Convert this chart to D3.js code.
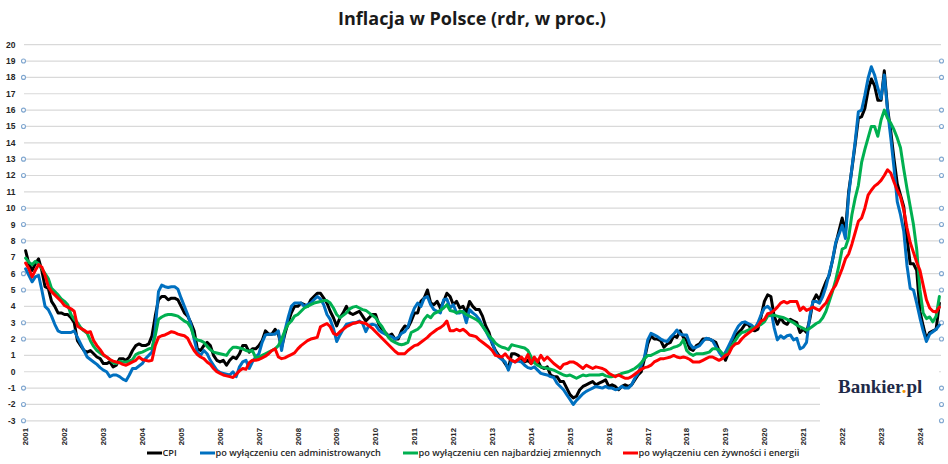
<!DOCTYPE html>
<html><head><meta charset="utf-8">
<script src="https://cdn.jsdelivr.net/npm/d3@7/dist/d3.min.js"></script>
<style>body{margin:0;background:#fff}svg{display:block}</style>
</head><body>
<svg id="chart" width="948" height="464"></svg>
<script>
const title = "Inflacja w Polsce (rdr, w proc.)";
const yearLabels = ["2001","2002","2003","2004","2005","2006","2007","2008","2009","2010","2011","2012",
  "2013","2014","2015","2016","2017","2018","2019","2020","2021","2022","2023","2024"];
const yTicks = [-3,-2,-1,0,1,2,3,4,5,6,7,8,9,10,11,12,13,14,15,16,17,18,19,20];
const markerTicks = [19,18,16,15,13,12,10,9,8,6,5,3,2,-1,-2,-3];
const seriesNames = ["CPI","po wyłączeniu cen administrowanych","po wyłączeniu cen najbardziej zmiennych","po wyłączeniu cen żywności i energii"];

// monthly, Jan 2001 – Jul 2024
const cpi = [
7.4,6.6,6.2,6.6,6.9,6.2,5.2,5.1,4.3,4.0,3.6,3.6,
3.5,3.5,3.3,3.0,1.9,1.6,1.3,1.2,1.3,1.1,0.9,0.8,
0.5,0.5,0.6,0.3,0.4,0.8,0.8,0.7,0.9,1.3,1.6,1.7,
1.6,1.6,1.7,2.2,3.4,4.4,4.6,4.6,4.4,4.5,4.5,4.4,
4.0,3.6,3.4,3.0,2.5,1.4,1.3,1.6,1.8,1.6,1.0,0.7,
0.6,0.7,0.4,0.7,0.9,0.8,1.1,1.6,1.6,1.2,1.4,1.4,
1.6,1.9,2.5,2.3,2.3,2.6,2.3,1.5,2.3,3.0,3.6,4.0,
4.0,4.2,4.1,4.0,4.4,4.6,4.8,4.8,4.5,4.2,3.7,3.3,
2.8,3.3,3.6,4.0,3.6,3.5,3.6,3.7,3.4,3.1,3.3,3.5,
3.5,2.9,2.6,2.4,2.2,2.3,2.0,2.0,2.5,2.8,2.7,3.1,
3.6,3.6,4.3,4.5,5.0,4.2,4.1,4.3,3.9,4.3,4.8,4.6,
4.1,4.3,3.9,4.0,3.6,4.3,4.0,3.8,3.8,3.4,2.8,2.4,
1.7,1.3,1.0,0.8,0.5,0.2,1.1,1.1,1.0,0.8,0.6,0.7,
0.5,0.7,0.7,0.3,0.2,0.3,-0.2,-0.3,-0.3,-0.6,-0.6,-1.0,
-1.4,-1.6,-1.5,-1.1,-0.9,-0.8,-0.7,-0.6,-0.8,-0.7,-0.6,-0.5,
-0.9,-0.8,-0.9,-1.1,-0.9,-0.8,-0.9,-0.8,-0.5,-0.2,0.0,0.8,
1.7,2.2,2.0,2.0,1.9,1.5,1.7,1.8,2.2,2.1,2.5,2.1,
1.9,1.4,1.3,1.6,1.7,2.0,2.0,2.0,1.9,1.8,1.3,1.1,
0.7,1.2,1.7,2.2,2.4,2.6,2.9,2.9,2.6,2.5,2.6,3.4,
4.3,4.7,4.6,3.4,2.9,3.3,3.0,2.9,3.2,3.1,3.0,2.4,
2.6,2.4,3.2,4.3,4.7,4.4,5.0,5.5,5.9,6.8,7.8,8.6,
9.4,8.5,11.0,12.4,13.9,15.5,15.6,16.1,17.2,17.9,17.5,16.6,
16.6,18.4,16.1,14.7,13.0,11.5,10.8,10.1,8.2,6.6,6.6,6.2,
3.7,2.8,2.0,2.4,2.5,2.6,4.2];

const exAdministered = [
6.3,5.9,5.5,5.8,5.9,5.0,4.0,3.8,3.4,2.9,2.5,2.4,
2.4,2.4,2.4,2.5,2.1,1.7,1.3,0.9,0.75,0.6,0.45,0.25,
0.1,0.0,-0.3,-0.2,-0.2,-0.3,-0.45,-0.55,-0.2,0.2,0.2,0.35,
0.5,0.8,1.0,1.2,2.6,4.9,5.3,5.2,5.15,5.2,5.2,5.05,
4.5,4.0,3.5,2.9,2.0,1.2,1.0,1.3,1.1,0.7,0.4,0.1,
-0.05,-0.1,-0.15,-0.2,0.0,-0.3,0.3,0.6,0.7,0.2,0.6,0.9,
1.1,1.8,2.25,2.3,2.3,2.3,2.5,1.3,2.5,3.3,4.0,4.2,
4.2,4.2,4.0,4.1,4.2,4.4,4.6,4.45,4.1,3.5,3.2,2.65,
1.85,2.25,2.6,2.9,2.95,3.0,3.0,3.1,2.95,2.45,2.85,2.9,
2.85,2.55,2.4,2.3,2.2,2.15,2.0,2.1,2.35,2.45,2.75,3.4,
3.9,4.2,4.0,4.5,4.6,4.1,3.8,3.7,3.6,4.4,4.45,3.9,
4.1,3.6,3.6,3.7,3.0,3.8,3.6,3.45,3.2,2.8,2.5,2.1,
1.8,1.2,0.9,0.75,0.6,0.1,0.7,0.6,0.65,0.6,0.4,0.25,
0.2,0.3,0.1,-0.1,-0.15,-0.2,-0.3,-0.35,-0.7,-0.9,-1.1,-1.4,
-1.7,-2.0,-1.75,-1.55,-1.35,-1.2,-1.1,-1.0,-0.9,-0.95,-1.0,-0.9,
-1.0,-1.0,-1.1,-1.05,-0.9,-1.0,-1.0,-0.8,-0.4,-0.1,0.4,0.9,
1.95,2.35,2.25,2.15,2.0,1.9,1.85,2.1,2.3,2.55,2.3,2.25,
2.25,1.7,1.45,1.5,1.6,1.85,2.05,2.0,1.9,1.55,1.2,0.9,
1.2,1.6,2.0,2.45,2.8,3.0,3.05,2.95,2.85,2.65,3.0,3.5,
3.9,4.0,3.8,2.7,1.95,2.2,2.05,2.2,2.25,1.95,2.05,1.4,
1.5,1.8,3.4,4.3,4.3,4.2,4.6,5.2,6.0,6.8,7.9,8.4,
8.95,8.15,10.8,12.45,14.05,15.9,16.0,16.9,17.95,18.65,18.15,17.35,
16.7,18.15,16.0,14.3,12.45,10.4,9.6,8.6,6.5,5.1,5.0,4.2,
3.3,2.5,1.85,2.3,2.45,2.6,2.85];

const exVolatile = [
6.95,6.7,6.55,6.75,6.6,6.3,6.0,5.7,5.1,4.9,4.7,4.45,
4.3,4.1,3.5,3.2,3.0,2.7,2.5,2.35,1.9,1.55,1.3,1.15,
1.0,0.9,0.75,0.55,0.5,0.65,0.6,0.6,0.65,0.75,1.05,1.15,
1.2,1.3,1.4,1.45,2.2,3.2,3.35,3.45,3.5,3.5,3.45,3.4,
3.25,3.1,3.0,2.7,2.1,1.95,1.9,1.8,1.55,1.35,1.2,1.15,
1.1,1.05,1.0,1.3,1.5,1.5,1.45,1.4,1.3,1.25,1.3,0.85,
0.9,1.0,1.1,1.2,1.3,1.4,1.6,2.0,2.5,2.9,3.1,3.4,
3.5,3.7,3.9,4.0,4.1,4.2,4.25,4.3,4.35,4.35,4.2,3.9,
3.5,3.3,3.45,3.6,3.85,3.95,4.0,3.9,3.8,3.75,3.6,3.45,
3.3,3.0,2.75,2.4,2.1,1.9,1.8,1.7,1.65,1.7,1.8,2.4,
2.5,2.6,2.8,3.2,3.45,3.3,3.55,3.65,3.75,3.9,4.1,3.75,
3.7,3.6,3.7,3.65,3.5,3.4,3.3,3.2,3.05,2.8,2.5,2.2,
2.0,1.75,1.6,1.5,1.45,1.35,1.65,1.6,1.55,1.5,1.45,1.3,
0.9,0.55,0.4,0.3,0.25,0.2,0.15,0.1,0.0,-0.1,-0.2,-0.25,
-0.2,-0.3,-0.4,-0.3,-0.2,-0.25,-0.2,-0.2,-0.2,-0.2,-0.15,-0.25,
-0.3,-0.3,-0.25,-0.2,-0.1,-0.05,0.0,0.1,0.2,0.35,0.55,0.8,
1.0,1.0,1.1,1.2,1.3,1.3,1.35,1.4,1.5,1.55,1.65,1.95,
1.3,1.1,1.0,1.1,1.1,1.1,1.15,1.2,1.4,1.4,1.35,1.1,
1.0,1.3,1.6,1.9,2.2,2.4,2.45,2.55,2.65,2.7,2.8,2.9,
3.05,3.4,3.45,3.45,3.4,3.35,3.3,3.2,3.1,3.0,2.85,2.75,
2.65,2.55,2.65,2.8,2.95,3.05,3.3,3.7,4.3,4.9,5.6,6.5,
7.5,7.6,8.2,9.6,10.6,11.4,12.8,13.6,14.3,15.0,15.0,14.4,
15.4,16.0,15.5,15.2,14.8,14.3,13.7,12.4,11.2,10.1,9.0,7.5,
5.0,3.6,3.25,3.35,3.05,3.4,4.6];

const exFoodEnergy = [
6.65,6.3,5.8,6.2,6.55,6.4,5.9,5.2,4.9,4.7,4.5,4.3,
4.05,3.95,3.85,3.7,2.8,2.65,2.55,2.4,2.45,1.9,1.6,1.35,
1.05,0.9,0.75,0.65,0.6,0.55,0.45,0.4,0.5,0.6,0.7,0.9,
0.75,0.7,0.65,0.7,1.6,2.1,2.2,2.25,2.35,2.45,2.4,2.3,
2.25,2.2,2.05,1.65,1.3,1.05,0.9,0.8,0.6,0.45,0.2,0.0,
-0.1,-0.2,-0.25,-0.3,-0.35,-0.15,0.05,0.2,0.15,0.55,0.7,0.7,
0.75,0.85,0.95,1.1,1.3,1.4,0.9,0.8,0.85,0.95,1.05,1.15,
1.4,1.6,1.75,1.9,2.0,2.05,2.1,2.75,2.85,2.95,2.75,2.35,
2.25,2.45,2.6,2.75,2.85,2.95,3.0,3.05,3.0,2.95,2.8,2.65,
2.45,2.25,2.05,1.85,1.65,1.45,1.25,1.1,1.1,1.1,1.3,1.45,
1.6,1.65,1.8,1.95,2.1,2.3,2.45,2.6,2.7,2.85,3.1,2.5,
2.5,2.6,2.5,2.6,2.45,2.25,2.2,2.15,1.95,1.8,1.65,1.5,
1.3,1.0,0.95,0.9,1.1,0.85,0.7,0.6,0.75,0.9,0.65,1.05,
0.5,0.9,0.6,1.0,0.7,0.9,0.7,0.5,0.35,0.2,0.45,0.5,
0.6,0.6,0.5,0.35,0.2,0.4,0.3,0.2,0.3,0.25,0.2,0.1,
-0.1,-0.2,-0.3,-0.2,-0.3,-0.4,-0.4,-0.3,-0.15,0.0,0.15,0.25,
0.3,0.4,0.6,0.7,0.8,0.8,0.85,0.9,1.0,0.9,0.85,0.9,
0.85,0.75,0.6,0.6,0.6,0.7,0.8,0.9,0.9,0.8,0.7,0.8,
1.0,1.1,1.5,1.7,1.75,2.0,2.2,2.35,2.5,2.65,2.8,3.1,
3.2,3.55,3.6,3.75,3.95,4.2,4.3,4.2,4.3,4.3,4.3,3.75,
3.95,3.75,3.85,3.95,3.85,3.75,4.0,4.2,4.6,5.0,5.3,5.8,
6.3,6.9,7.2,7.8,8.5,9.2,9.4,10.0,10.8,11.1,11.35,11.5,
11.7,12.0,12.35,12.15,11.6,11.1,10.7,9.9,8.8,7.9,7.3,6.7,
6.2,5.3,4.4,3.9,3.7,3.65,3.95];

const seriesValues = [cpi, exAdministered, exVolatile, exFoodEnergy];
const colors = ["#000000","#0070c0","#00b050","#ff0000"];

(function draw() {
  const svg = d3.select("#chart");
  const plotLeft = 24, plotRight = 941, plotTop = 44.7, plotBottom = 420.8;
  const n = cpi.length;
  const x = d3.scalePoint().domain(d3.range(n)).range([plotLeft, plotRight]).padding(0.5);
  const y = d3.scaleLinear().domain([-3, 20]).range([plotBottom, plotTop]);

  svg.append("text").attr("x", 472).attr("y", 24.5).attr("text-anchor","middle")
    .style("font-family","'Open Sans', sans-serif").style("font-weight","700").style("font-size","18px")
    .attr("fill","#1a1a1a").text(title);

  svg.append("g").selectAll("line").data(yTicks).join("line")
    .attr("x1", plotLeft).attr("x2", plotRight).attr("y1", d=>y(d)).attr("y2", d=>y(d))
    .attr("stroke","#d9d9d9").attr("stroke-width",1.2);

  svg.append("g").selectAll("text").data(yTicks).join("text")
    .attr("x", 15.5).attr("y", d=>y(d)).attr("dy","0.35em").attr("text-anchor","end")
    .style("font-family","'Liberation Sans', Arial, sans-serif").style("font-weight","700").style("font-size","8.5px")
    .attr("fill","#262626").text(d=>d);

  svg.append("rect").attr("x", 820).attr("y", 362).attr("width", 119).attr("height", 64).attr("fill","#fff");

  [plotLeft - 0.5, plotRight + 0.5].forEach(cx => {
    svg.append("g").selectAll("circle").data(markerTicks).join("circle")
      .attr("cx", cx).attr("cy", d=>y(d)).attr("r", 2)
      .attr("fill","#fff").attr("stroke","#7fa6cf").attr("stroke-width",1.1);
  });

  svg.append("g").selectAll("text").data(yearLabels).join("text")
    .attr("transform", (d,k)=>`translate(${x(k*12)+2.8},428) rotate(-90)`)
    .attr("text-anchor","end")
    .style("font-family","'Liberation Sans', Arial, sans-serif").style("font-weight","700").style("font-size","7.8px")
    .attr("fill","#262626").text(d=>d);

  const line = d3.line().x((d,i)=>x(i)).y(d=>y(d));
  seriesValues.forEach((vals, s) => {
    svg.append("path").datum(vals).attr("d", line)
      .attr("fill","none").attr("stroke", colors[s]).attr("stroke-width", 3)
      .attr("stroke-linejoin","round").attr("stroke-linecap","round");
  });

  const legendItems = [ {x1:147, x2:162}, {x1:200, x2:215}, {x1:403, x2:418}, {x1:623, x2:638} ];
  const lg = svg.append("g");
  legendItems.forEach((it, s) => {
    lg.append("line").attr("x1", it.x1).attr("x2", it.x2).attr("y1", 453).attr("y2", 453)
      .attr("stroke", colors[s]).attr("stroke-width", 3);
    lg.append("text").attr("x", it.x2 + 0.5).attr("y", 453).attr("dy","0.35em")
      .style("font-family","'Open Sans', sans-serif").style("font-weight","600").style("font-size","9.2px")
      .attr("fill","#262626").text(seriesNames[s]);
  });

  const logo = svg.append("text").attr("x", 838).attr("y", 392.7)
    .style("font-family","'Liberation Serif', 'DejaVu Serif', serif").style("font-weight","700").style("font-size","19px")
    .attr("fill","#1f2a48");
  logo.append("tspan").text("Bankier");
  logo.append("tspan").attr("fill","#f39200").text(".");
  logo.append("tspan").text("pl");
})();
</script>
</body></html>
